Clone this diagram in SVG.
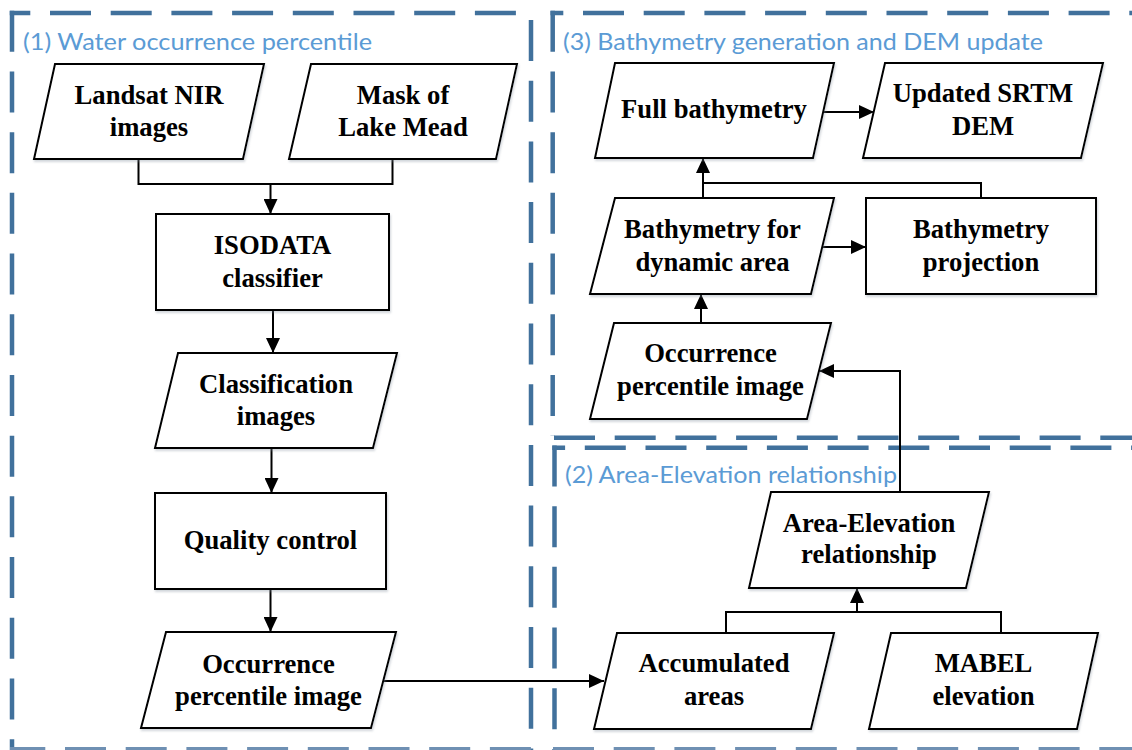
<svg xmlns="http://www.w3.org/2000/svg" width="1132" height="750" viewBox="0 0 1132 750">
<style>
.frame{fill:none;stroke:#41719C;stroke-width:4.5;stroke-dasharray:41 19.7}
.title{font-family:Lato,"Open Sans","Liberation Sans",sans-serif;font-size:24px;fill:#5B9BD5}
.shape{fill:#ffffff;stroke:#000000;stroke-width:2;stroke-linejoin:miter}
.lbl{font-family:"Liberation Serif","Times New Roman",serif;font-weight:bold;font-size:26.67px;fill:#000000;text-anchor:middle}
.conn{fill:none;stroke:#000000;stroke-width:2}
.arr{marker-end:url(#ah)}
</style>
<defs>
<marker id="ah" markerUnits="userSpaceOnUse" markerWidth="16" markerHeight="14" refX="15" refY="7" orient="auto">
<path d="M0,0 L15,7 L0,14 Z" fill="#000000"/>
</marker>
<filter id="sh" x="-10%" y="-10%" width="130%" height="140%">
<feDropShadow dx="1" dy="2" stdDeviation="1.2" flood-color="#7f8a99" flood-opacity="0.35"/>
</filter>
</defs>

<g id="frames">
<path class="frame" d="M12,10.75 V750"/>
<path class="frame" d="M9.75,13 H531" stroke-dashoffset="20.45"/>
<path class="frame" d="M531,20 V750"/>
<path class="frame" d="M10,749.3 H531" stroke-dashoffset="5.7" style="stroke:#6f90b3"/>
<path class="frame" d="M552.7,10.75 V436"/>
<path class="frame" d="M550.5,13 H1132" stroke-dashoffset="28.2"/>
<path class="frame" d="M554,437.7 H1132"/>
<path class="frame" d="M552.3,447.7 H1132" stroke-dashoffset="28.2"/>
<path class="frame" d="M554.5,445.45 V750"/>
<path class="frame" d="M553,749.3 H1132" style="stroke:#6f90b3"/>
<text class="title" x="23" y="50" textLength="349" lengthAdjust="spacingAndGlyphs">(1) Water occurrence percentile</text>
<text class="title" x="563" y="50" textLength="480" lengthAdjust="spacingAndGlyphs">(3) Bathymetry generation and DEM update</text>
<text class="title" x="565" y="483.3" textLength="332" lengthAdjust="spacingAndGlyphs">(2) Area-Elevation relationship</text>
</g>

<g id="connectors">
<path class="conn" d="M138.5,159 V184 H392.5 V159"/>
<path class="conn arr" d="M270.5,184 V214"/>
<path class="conn arr" d="M273,310 V353"/>
<path class="conn arr" d="M271.5,448 V493"/>
<path class="conn arr" d="M270.5,589 V632"/>
<path class="conn arr" d="M383,681 H604"/>
<path class="conn arr" d="M823,112 H874"/>
<path class="conn arr" d="M822,247 H866"/>
<path class="conn" d="M703,198 V183 M981,198 V183 H703"/>
<path class="conn arr" d="M703,183 V158"/>
<path class="conn arr" d="M701,323 V294"/>
<path class="conn arr" d="M900,492 V371 H819"/>
<path class="conn" d="M726,633 V612 H1001 V633"/>
<path class="conn arr" d="M857,612 V588"/>
</g>

<g id="n-landsat">
<polygon class="shape" filter="url(#sh)" points="55,64 264,64 243,159 34,159"/>
<text class="lbl" x="149" y="103.5">Landsat NIR</text>
<text class="lbl" x="149" y="136">images</text>
</g>
<g id="n-mask">
<polygon class="shape" filter="url(#sh)" points="311,64 517,64 496,159 289,159"/>
<text class="lbl" x="403" y="103.5">Mask of</text>
<text class="lbl" x="403" y="136">Lake Mead</text>
</g>
<g id="n-isodata">
<rect class="shape" filter="url(#sh)" x="156" y="214" width="233" height="96"/>
<text class="lbl" x="272.5" y="254.3">ISODATA</text>
<text class="lbl" x="272.5" y="286.7">classifier</text>
</g>
<g id="n-classification">
<polygon class="shape" filter="url(#sh)" points="178,353 397,353 373,448 155,448"/>
<text class="lbl" x="276" y="392.7">Classification</text>
<text class="lbl" x="276" y="425">images</text>
</g>
<g id="n-quality">
<rect class="shape" filter="url(#sh)" x="155" y="493" width="231" height="96"/>
<text class="lbl" x="270.5" y="549.3">Quality control</text>
</g>
<g id="n-occ-left">
<polygon class="shape" filter="url(#sh)" points="166,632 396,632 371,728 141,728"/>
<text class="lbl" x="268.5" y="672.7">Occurrence</text>
<text class="lbl" x="268.5" y="705">percentile image</text>
</g>
<g id="n-full">
<polygon class="shape" filter="url(#sh)" points="615,63 834,63 813,158 595,158"/>
<text class="lbl" x="714" y="118.3">Full bathymetry</text>
</g>
<g id="n-srtm">
<polygon class="shape" filter="url(#sh)" points="885,63 1103,63 1081,158 863,158"/>
<text class="lbl" x="983" y="101.7">Updated SRTM</text>
<text class="lbl" x="983" y="135">DEM</text>
</g>
<g id="n-bathy-dyn">
<polygon class="shape" filter="url(#sh)" points="615,198 834,198 811,294 590,294"/>
<text class="lbl" x="712.5" y="238.3">Bathymetry for</text>
<text class="lbl" x="712.5" y="270.7">dynamic area</text>
</g>
<g id="n-bathy-proj">
<rect class="shape" filter="url(#sh)" x="866" y="198" width="230" height="96"/>
<text class="lbl" x="981" y="238.3">Bathymetry</text>
<text class="lbl" x="981" y="270.7">projection</text>
</g>
<g id="n-occ-right">
<polygon class="shape" filter="url(#sh)" points="614,323 831,323 807,419 590,419"/>
<text class="lbl" x="710.5" y="361.7">Occurrence</text>
<text class="lbl" x="710.5" y="395">percentile image</text>
</g>
<g id="n-area-elev">
<polygon class="shape" filter="url(#sh)" points="771,492 989,492 966,588 749,588"/>
<text class="lbl" x="869" y="531.7">Area-Elevation</text>
<text class="lbl" x="869" y="563.3">relationship</text>
</g>
<g id="n-accum">
<polygon class="shape" filter="url(#sh)" points="617,633 834,633 811,729 594,729"/>
<text class="lbl" x="714" y="671.7">Accumulated</text>
<text class="lbl" x="714" y="705">areas</text>
</g>
<g id="n-mabel">
<polygon class="shape" filter="url(#sh)" points="891,633 1098,633 1077,729 869,729"/>
<text class="lbl" x="983.5" y="671.7">MABEL</text>
<text class="lbl" x="983.5" y="705">elevation</text>
</g>
</svg>
